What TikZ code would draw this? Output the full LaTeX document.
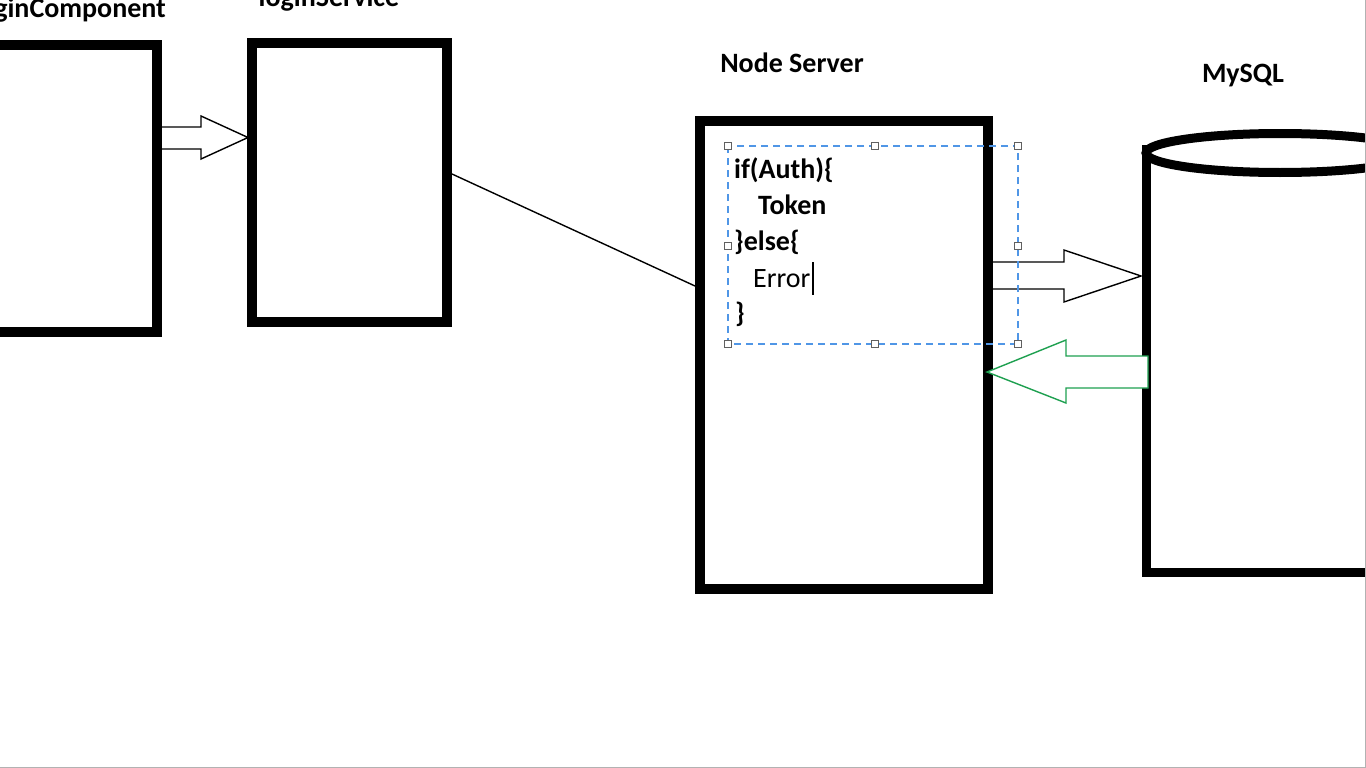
\documentclass[tikz,border=0pt]{standalone}
\usepackage{fontspec}
\setmainfont{Carlito}
\definecolor{selblue}{RGB}{80,150,230}
\definecolor{dbgreen}{RGB}{30,160,80}
\begin{document}
\begin{tikzpicture}[x=1pt,y=-1pt,
  box/.style={draw, line width=10pt, inner sep=0pt, rectangle},
  lbl/.style={font=\fontsize{28}{33}\selectfont\bfseries, inner sep=0pt, anchor=base},
  code/.style={font=\fontsize{28}{33}\selectfont\bfseries, inner sep=0pt, anchor=base west},
  hollow/.style={draw, line width=1.4pt, fill=white, line join=miter},
  handle/.style={draw=gray!75!black, fill=white, line width=1pt, minimum size=7pt, inner sep=0pt, rectangle},
  sel/.style={draw=selblue, dash pattern=on 7pt off 5pt, line width=1.4pt}]
\useasboundingbox (0,0) rectangle (1366,768);
\fill[white] (0,0) rectangle (1366,768);
\clip (0,0) rectangle (1366,768);

% boxes
\node[box, minimum width=197pt, minimum height=286.5pt] (lc) at (58.5,188.75) {};
\node[lbl, anchor=base east] (lct) at (166,18) {loginComponent};
\node[box, minimum width=195pt, minimum height=279pt] (ls) at (349.5,182.5) {};
\node[lbl] (lst) at (329,7) {loginService};
\node[box, minimum width=288pt, minimum height=468pt] (ns) at (844,355) {};
\node[lbl] (nst) at (792,73) {Node Server};
\node[lbl] (dbt) at (1243,82) {MySQL};

% cylinder (MySQL)
\draw[line width=9pt] (1146,145) -- (1146,572) -- (1420,572);
\draw[line width=9pt] (1280,153) ellipse [x radius=134, y radius=19.5];

% connector
\draw[line width=1.4pt] ([yshift=8.5pt]ls.east) -- ([yshift=69pt]ns.west);

% hollow arrows
\draw[hollow] (162,127) -- (201,127) -- (201,116) -- (248,137.5) -- (201,159) -- (201,149) -- (162,149);
\draw[hollow] (993,262) -- (1064,262) -- (1064,250) -- (1141,276) -- (1064,302) -- (1064,289) -- (993,289);
\draw[hollow, draw=dbgreen] (1148,356) -- (1066,356) -- (1066,340) -- (987,372) -- (1066,403) -- (1066,388) -- (1148,388) -- cycle;

% code text
\node[code] (c1) at (734,178) {if(Auth)\{};
\node[code] (c2) at (758,214) {Token};
\node[code] (c3) at (734,250) {\}else\{};
\node[code, font=\fontsize{28}{33}\selectfont] (c4) at (753,287) {Error};
\node[code] (c5) at (735,322) {\}};
\draw[line width=1.5pt] (813,262) -- (813,295);

% selection frame
\draw[sel] (728,146) rectangle (1018,344);
\node[handle] (h1) at (728,146) {};
\node[handle] (h2) at (875,146) {};
\node[handle] (h3) at (1018,146) {};
\node[handle] (h4) at (728,246) {};
\node[handle] (h5) at (1018,246) {};
\node[handle] (h6) at (728,344) {};
\node[handle] (h7) at (875,344) {};
\node[handle] (h8) at (1018,344) {};

% screenshot edge
\draw[gray!60, line width=1.2pt] (1365.4,0) -- (1365.4,767.4) -- (0,767.4);
\end{tikzpicture}
\end{document}
